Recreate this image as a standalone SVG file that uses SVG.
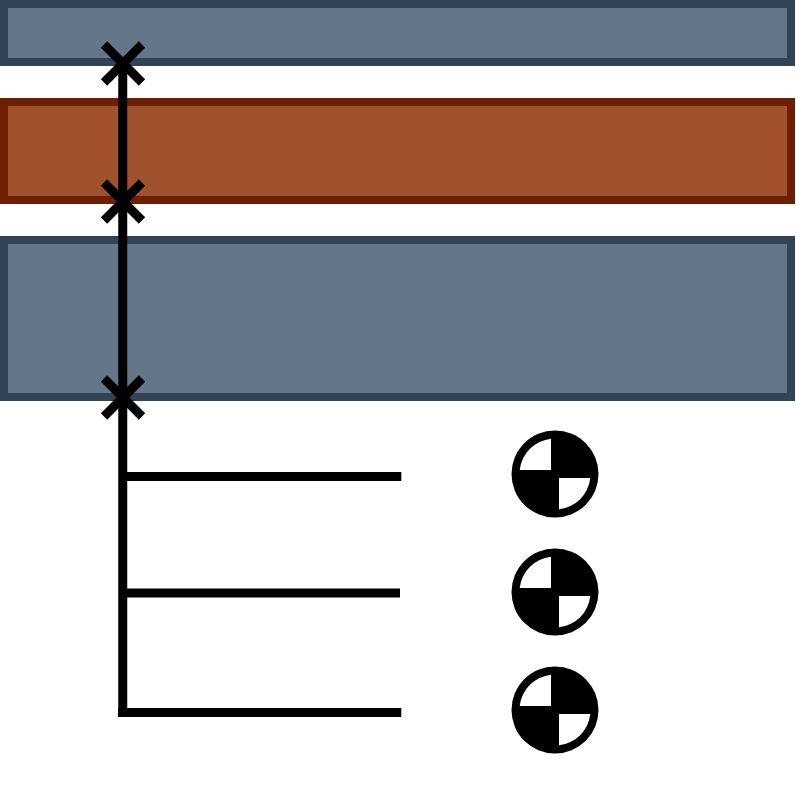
<svg xmlns="http://www.w3.org/2000/svg" width="796" height="796" viewBox="0 0 796 796">
<style>
.slate{fill:#647687;stroke:#314354;stroke-width:8}
.rust{fill:#a0522d;stroke:#6d1f00;stroke-width:8}
.line{fill:none;stroke:#000;stroke-width:9}
.disc{fill:#000}
.q{fill:#fff}
</style>
<defs>
<g id="cross"><path class="line" d="M-19 -19L19 19M19 -19L-19 19"/></g>
<g id="cog">
<circle class="disc" r="43.500"/>
<path class="q" d="M-4 -4H-35.300A35.500 35.500 0 0 1 -4 -35.300Z"/>
<path class="q" d="M4 4H35.300A35.500 35.500 0 0 1 4 35.300Z"/>
</g>
</defs>
<g id="band-top"><rect class="slate" x="4" y="4" width="787" height="58"/></g>
<g id="band-middle"><rect class="rust" x="4" y="102" width="787" height="98"/></g>
<g id="band-bottom"><rect class="slate" x="4" y="240" width="787" height="157"/></g>
<g id="connectors">
<path class="line" d="M122.750 63V712.500"/>
<path class="line" d="M122 476.500H401.300"/>
<path class="line" d="M122 593H400"/>
<path class="line" d="M118 712.500H401.300"/>
</g>
<g id="joint-1"><use href="#cross" x="123" y="63.500"/></g>
<g id="joint-2"><use href="#cross" x="123" y="201.500"/></g>
<g id="joint-3"><use href="#cross" x="123" y="397.500"/></g>
<g id="cog-1"><use href="#cog" x="555" y="474"/></g>
<g id="cog-2"><use href="#cog" x="555" y="592"/></g>
<g id="cog-3"><use href="#cog" x="555" y="710"/></g>
</svg>
